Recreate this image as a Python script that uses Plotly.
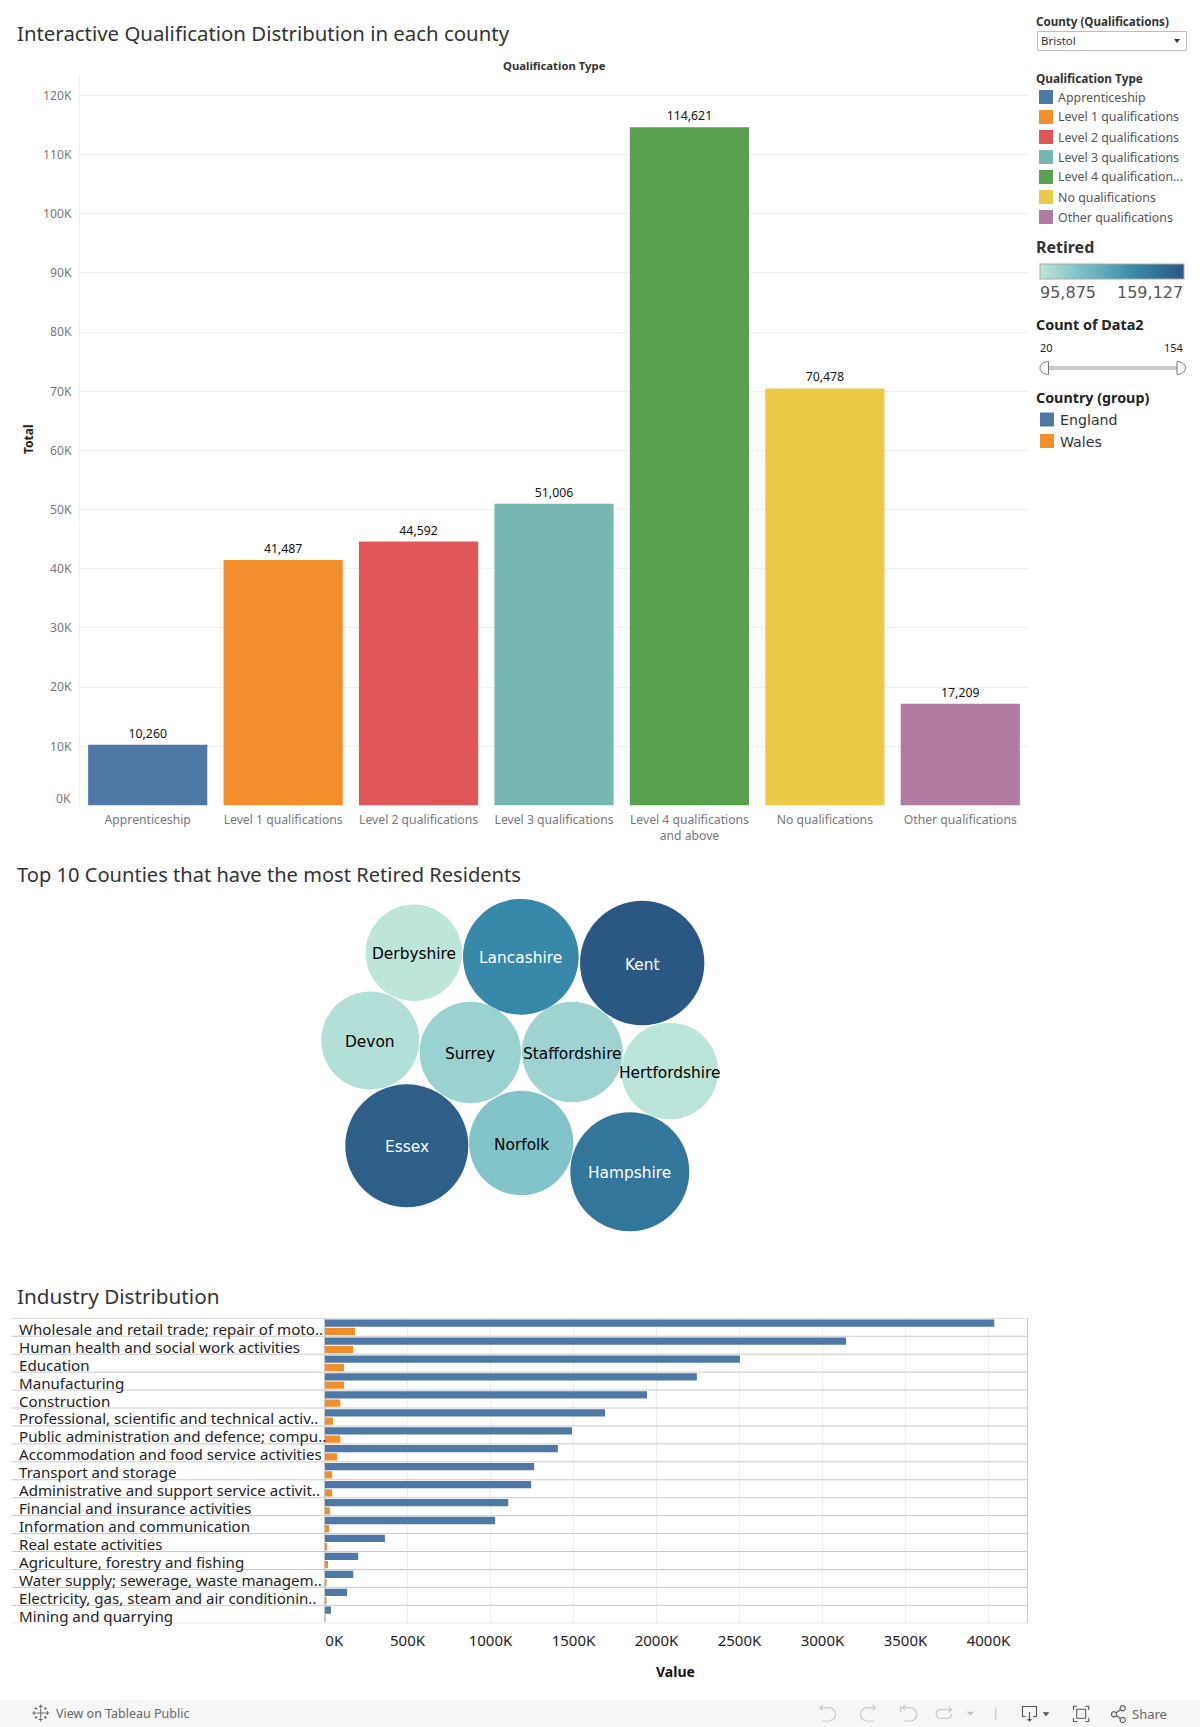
import math
import plotly.graph_objects as go

W, H = 1200, 1727

# ---------- data ----------
qual_types = ["Apprenticeship", "Level 1 qualifications", "Level 2 qualifications",
              "Level 3 qualifications", "Level 4 qualifications and above",
              "No qualifications", "Other qualifications"]
qual_tick_labels = ["Apprenticeship", "Level 1 qualifications", "Level 2 qualifications",
                    "Level 3 qualifications", "Level 4 qualifications<br>and above",
                    "No qualifications", "Other qualifications"]
qual_legend_labels = ["Apprenticeship", "Level 1 qualifications", "Level 2 qualifications",
                      "Level 3 qualifications", "Level 4 qualification...",
                      "No qualifications", "Other qualifications"]
qual_totals = [10260, 41487, 44592, 51006, 114621, 70478, 17209]
qual_colors = ["#4e79a7", "#f28e2b", "#e15759", "#76b7b2", "#59a14f", "#edc948", "#b07aa1"]

counties = ["Derbyshire", "Lancashire", "Kent", "Devon", "Surrey", "Staffordshire",
            "Hertfordshire", "Essex", "Norfolk", "Hampshire"]
retired = [95875, 137860, 159127, 98910, 105680, 104430, 96300, 155800, 112030, 145840]
pack_x = [413.8, 520.8, 642.2, 370.3, 470.3, 572.3, 669.7, 406.8, 521.2, 629.8]
pack_y = [952.8, 956.8, 963.0, 1040.5, 1052.5, 1052.0, 1071.0, 1145.8, 1143.0, 1171.8]

industries = ["Wholesale and retail trade; repair of moto..", "Human health and social work activities",
              "Education", "Manufacturing", "Construction",
              "Professional, scientific and technical activ..", "Public administration and defence; compu..",
              "Accommodation and food service activities", "Transport and storage",
              "Administrative and support service activit..", "Financial and insurance activities",
              "Information and communication", "Real estate activities",
              "Agriculture, forestry and fishing", "Water supply; sewerage, waste managem..",
              "Electricity, gas, steam and air conditionin..", "Mining and quarrying"]
england = [4035000, 3142000, 2503000, 2243000, 1943000, 1690000, 1491000, 1406000, 1263000,
           1245000, 1107000, 1028000, 364000, 203000, 173000, 136000, 39000]
wales = [184000, 173000, 118000, 118000, 95000, 51000, 95000, 76000, 46000,
         46000, 32000, 28000, 16000, 21000, 9000, 9000, 1000]
value_ticks = [0, 500000, 1000000, 1500000, 2000000, 2500000, 3000000, 3500000, 4000000]
value_tick_labels = ["\u00a0\u00a0\u00a0\u00a0\u00a00K", "500K", "1000K", "1500K", "2000K",
                     "2500K", "3000K", "3500K", "4000K"]
total_ticks = list(range(0, 130000, 10000))
total_tick_labels = [""] + [f"{t // 1000}K" for t in total_ticks[1:]]

# ---------- helpers ----------
BOOK = "Noto Sans"
DJV = "DejaVu Sans"
def px(x): return x / W
def py(y): return 1 - y / H
def dom(a, b, size): return [a / size, b / size]
def ydom(top, bottom): return [1 - bottom / H, 1 - top / H]

annotations, shapes = [], []
def text(x, y, s, size=12, color="#333333", anchor="left", bold=False, family=BOOK, angle=0):
    annotations.append(dict(xref="paper", yref="paper", x=px(x), y=py(y), text=f"<b>{s}</b>" if bold else s,
                            showarrow=False, xanchor=anchor, yanchor="middle", textangle=angle,
                            font=dict(size=size, color=color, family=family), borderpad=0, borderwidth=0))
def rect(x0, y0, x1, y1, fill=None, line=None, lw=1, layer="above"):
    shapes.append(dict(type="rect", xref="paper", yref="paper", x0=px(x0), x1=px(x1), y0=py(y0), y1=py(y1),
                       fillcolor=fill or "rgba(0,0,0,0)", line=dict(color=line or "rgba(0,0,0,0)", width=lw if line else 0),
                       layer=layer))
def poly(points, color="#aaaaaa", lw=1.1, fill=None, close=False):
    d = "M" + " L".join(f"{px(a):.5f},{py(b):.5f}" for a, b in points) + (" Z" if close else "")
    shapes.append(dict(type="path", xref="paper", yref="paper", path=d, fillcolor=fill or "rgba(0,0,0,0)",
                       line=dict(color=color, width=lw if lw else 0)))
def arc(cx, cy, r, a0, a1, n=18, rx=None):
    rx = rx or r
    return [(cx + rx * math.cos(math.radians(a0 + (a1 - a0) * i / n)),
             cy + r * math.sin(math.radians(a0 + (a1 - a0) * i / n))) for i in range(n + 1)]

fig = go.Figure()

# ---------- top chart ----------
for i, q in enumerate(qual_types):
    fig.add_trace(go.Bar(x=[i], y=[qual_totals[i]], name=q, marker=dict(color=qual_colors[i], line=dict(width=0)),
                         width=0.88, text=[f"{qual_totals[i]:,}"], textposition="outside", cliponaxis=False,
                         textfont=dict(size=12.3, color="#111111", family=BOOK), showlegend=False,
                         xaxis="x", yaxis="y"))

# ---------- bubbles ----------
sizeref = 2 * max(retired) / 124.3 ** 2
scale = [[0, "#bde5da"], [0.255, "#83c4cb"], [0.665, "#3888a9"], [1, "#2b5783"]]
label_colors = ["#ffffff" if (v - min(retired)) / (max(retired) - min(retired)) > 0.5 else "#000000" for v in retired]
fig.add_trace(go.Scatter(x=pack_x, y=pack_y, mode="markers", text=counties, cliponaxis=False,
                         marker=dict(size=retired, sizemode="area", sizeref=sizeref, color=retired,
                                     colorscale=scale, cmin=min(retired), cmax=max(retired), opacity=1,
                                     line=dict(width=0),
                                     colorbar=dict(orientation="h", x=px(1040), xanchor="left", y=py(280), yanchor="bottom",
                                                   len=143.5, lenmode="pixels", thickness=15, thicknessmode="pixels",
                                                   showticklabels=False, ticks="", outlinecolor="#a8a8a0", outlinewidth=1,
                                                   xpad=0, ypad=0, borderwidth=0)),
                         showlegend=False, xaxis="x2", yaxis="y2"))
for name, bx, by, col in zip(counties, pack_x, pack_y, label_colors):
    annotations.append(dict(xref="x2", yref="y2", x=bx, y=by, text=name, showarrow=False, xanchor="center",
                            yanchor="middle", yshift=-1.5, borderpad=0,
                            font=dict(size=15.4, color=col, family=DJV)))

# ---------- industries ----------
rows = list(range(len(industries)))
fig.add_trace(go.Bar(y=rows, x=england, orientation="h", name="England", marker=dict(color="#4e79a7", line=dict(width=0)),
                     showlegend=False, xaxis="x3", yaxis="y3"))
fig.add_trace(go.Bar(y=rows, x=wales, orientation="h", name="Wales", marker=dict(color="#f28e2b", line=dict(width=0)),
                     showlegend=False, xaxis="x3", yaxis="y3"))

# top chart furniture
text(16.5, 33, "Interactive Qualification Distribution in each county", size=20.4, color="#333333")
text(554, 65.5, "Qualification Type", size=11.3, color="#333333", anchor="center", bold=True)
text(29, 439, "Total", size=12, color="#222222", anchor="center", bold=True, angle=-90)
annotations.append(dict(xref="paper", yref="y", x=px(72), y=0, text="0K", showarrow=False, xanchor="right",
                        yanchor="middle", yshift=7, borderpad=0, font=dict(size=12.2, color="#777777", family=BOOK)))

# titles
text(16.5, 874, "Top 10 Counties that have the most Retired Residents", size=20.1)
text(16.5, 1296, "Industry Distribution", size=20.7)

# industry furniture
for r, name in zip(rows, industries):
    annotations.append(dict(xref="paper", yref="y3", x=px(18), y=r, text=name, showarrow=False, xanchor="left",
                            yanchor="middle", yshift=-1.5, borderpad=0, font=dict(size=15.1, color="#222222", family=BOOK)))
for r in rows + [17]:
    shapes.append(dict(type="line", xref="paper", yref="y3", x0=px(11.5), x1=px(1027.5), y0=r - 0.5, y1=r - 0.5,
                       line=dict(color="#c9c9c9", width=1), layer="above"))
shapes.append(dict(type="line", xref="paper", yref="paper", x0=px(1027.5), x1=px(1027.5), y0=py(1318.3), y1=py(1623.3),
                   line=dict(color="#c9c9c9", width=1)))
text(675.4, 1671, "Value", size=14, color="#111111", anchor="center", bold=True)

# right-hand panel
text(1036, 21.5, "County (Qualifications)", size=11.6, color="#333333", bold=True)
rect(1037.5, 31.5, 1186.5, 50.5, fill="#ffffff", line="#bdbdbd")
text(1041, 40.5, "Bristol", size=11.5, color="#333333")
poly([(1174, 39), (1180, 39), (1177, 43)], color="#333333", lw=0, fill="#333333", close=True)
text(1036, 78, "Qualification Type", size=11.8, color="#333333", bold=True)
for i, lab in enumerate(qual_legend_labels):
    yc = 97 + 20 * i
    rect(1039, yc - 7, 1053, yc + 7, fill=qual_colors[i])
    text(1058, yc, lab, size=12.4, color="#555555")
text(1036, 247, "Retired", size=16, color="#333333", bold=True)
text(1040, 292.5, "95,875", size=16, color="#555555", family=DJV)
text(1183, 292.5, "159,127", size=16, color="#555555", anchor="right", family=DJV)
text(1036, 324.5, "Count of Data2", size=14.4, color="#222222", bold=True)
text(1040, 347, "20", size=11, color="#222222")
text(1184, 347, "154", size=11, color="#222222", anchor="right")
rect(1048, 366, 1177, 370, fill="#cccccc")
poly(arc(1048.5, 368, 6.5, -90, -270, 14, rx=8.5), color="#777777", lw=1, fill="#ffffff", close=True)
poly(arc(1177, 368, 6.5, -90, 90, 14, rx=8.5), color="#777777", lw=1, fill="#ffffff", close=True)
text(1036, 397, "Country (group)", size=14.3, color="#222222", bold=True)
rect(1040, 412.5, 1054, 426.5, fill="#4e79a7")
rect(1040, 434, 1054, 448, fill="#f28e2b")
text(1060, 419.5, "England", size=14.2, color="#333333", family=DJV)
text(1060, 441.5, "Wales", size=14.2, color="#333333", family=DJV)

# footer
rect(0, 1700, 1200, 1727, fill="#f6f6f6", layer="below")
text(56, 1713, "View on Tableau Public", size=12.5, color="#666666")
text(1132, 1714, "Share", size=13, color="#666666")
LOGO = "#666666"
for cx, cy, s in [(40.7, 1713, 4), (40.7, 1706.5, 2), (40.7, 1719.5, 2), (34.2, 1713, 2), (47.2, 1713, 2),
                  (36, 1708.5, 1.3), (45.4, 1708.5, 1.3), (36, 1717.5, 1.3), (45.4, 1717.5, 1.3)]:
    poly([(cx - s, cy), (cx + s, cy)], color=LOGO, lw=1)
    poly([(cx, cy - s), (cx, cy + s)], color=LOGO, lw=1)
DIS = "#c4c4c4"
# undo
poly([(820, 1707.7)] + arc(828.7, 1714.3, 6.7, -90, 90) + [(822, 1721)], color=DIS)
poly([(823, 1705), (820, 1707.7), (823, 1710.4)], color=DIS)
# redo
poly([(875.5, 1707.7)] + arc(867.3, 1714.3, 6.7, -90, -270) + [(873.5, 1721)], color=DIS)
poly([(872.5, 1705), (875.5, 1707.7), (872.5, 1710.4)], color=DIS)
# revert
poly([(900.7, 1706), (900.7, 1712.3)], color=DIS)
poly([(902.5, 1707.7)] + arc(910, 1714.3, 6.7, -90, 90) + [(904, 1721)], color=DIS)
poly([(905.5, 1705), (902.5, 1707.7), (905.5, 1710.4)], color=DIS)
# refresh
poly([(951, 1710)] + [(940.6, 1709.5)] + arc(940.6, 1713.9, 4.4, -90, -270) + arc(947.1, 1713.9, 4.4, 90, 0), color=DIS)
poly([(948.5, 1707), (951.5, 1709.7), (948.5, 1712.4)], color=DIS)
poly([(966.7, 1711.7), (974, 1711.7), (970.3, 1715.7)], color=DIS, lw=0, fill=DIS, close=True)
poly([(995.7, 1707.7), (995.7, 1720)], color=DIS)
# download
ICON = "#555555"
poly([(1025.5, 1716.5), (1022.5, 1716.5), (1022.5, 1706.5), (1036.5, 1706.5), (1036.5, 1716.5), (1033, 1716.5)], color=ICON)
poly([(1029.5, 1712), (1029.5, 1720)], color=ICON)
poly([(1027, 1719), (1032, 1719), (1029.5, 1722)], color=ICON, lw=0, fill=ICON, close=True)
poly([(1042.7, 1712.3), (1049.3, 1712.3), (1046, 1716.3)], color=ICON, lw=0, fill=ICON, close=True)
# fullscreen
rect(1076.7, 1709.3, 1085.7, 1718.3, line=ICON)
for sx, x in ((1, 1073.5), (-1, 1088.8)):
    poly([(x + sx * 3.5, 1706.3), (x, 1706.3), (x, 1710)], color=ICON)
    poly([(x + sx * 3.5, 1721.5), (x, 1721.5), (x, 1717.8)], color=ICON)
# share
poly(arc(1114, 1714.3, 2.6, 0, 360), color=ICON)
poly(arc(1122.7, 1708.3, 2.6, 0, 360), color=ICON)
poly(arc(1122.7, 1720, 2.6, 0, 360), color=ICON)
poly([(1116.2, 1712.9), (1120.5, 1709.8)], color=ICON)
poly([(1116.2, 1715.8), (1120.5, 1718.5)], color=ICON)

AX = dict(showline=False, zeroline=False, ticks="", fixedrange=True)
fig.update_layout(
    width=W, height=H, margin=dict(l=0, r=0, t=0, b=0, pad=0, autoexpand=False), autosize=False,
    paper_bgcolor="#ffffff", plot_bgcolor="rgba(0,0,0,0)", barmode="group", bargap=0.08, bargroupgap=0.12,
    font=dict(family=BOOK, color="#333333"), annotations=annotations, shapes=shapes,
    xaxis=dict(AX, domain=dom(80, 1028, W), range=[-0.5, 6.5], tickmode="array", tickvals=list(range(7)),
               ticktext=qual_tick_labels, showgrid=False, tickfont=dict(size=12.2, color="#777777", family=BOOK),
               anchor="y", ticklabelstandoff=5),
    yaxis=dict(AX, domain=ydom(75, 805.5), range=[0, 123430], tickmode="array", tickvals=total_ticks,
               ticktext=total_tick_labels, showgrid=True, gridcolor="#f0f0f0", gridwidth=1,
               tickfont=dict(size=12.2, color="#777777", family=BOOK), anchor="x", showline=True, linecolor="#f0f0f0",
               ticklabelstandoff=5),
    xaxis2=dict(AX, domain=dom(300, 740, W), range=[300, 740], visible=False, anchor="y2"),
    yaxis2=dict(AX, domain=ydom(890, 1240), range=[1240, 890], visible=False, anchor="x2"),
    xaxis3=dict(AX, domain=dom(324.5, 1027.5, W), range=[0, 4235000], tickmode="array", tickvals=value_ticks,
                ticktext=value_tick_labels, showgrid=True, gridcolor="#eeeeee", gridwidth=1,
                tickfont=dict(size=15, color="#222222", family=BOOK), anchor="y3", ticklabelstandoff=7),
    yaxis3=dict(AX, domain=ydom(1318.3, 1623.3), range=[16.5, -0.5], showticklabels=False, showgrid=False, anchor="x3",
                showline=True, linecolor="#c9c9c9", tickmode="array", tickvals=rows),
)
fig.write_html("out.html", config=dict(displayModeBar=False), post_script="document.body.style.margin='0';")
